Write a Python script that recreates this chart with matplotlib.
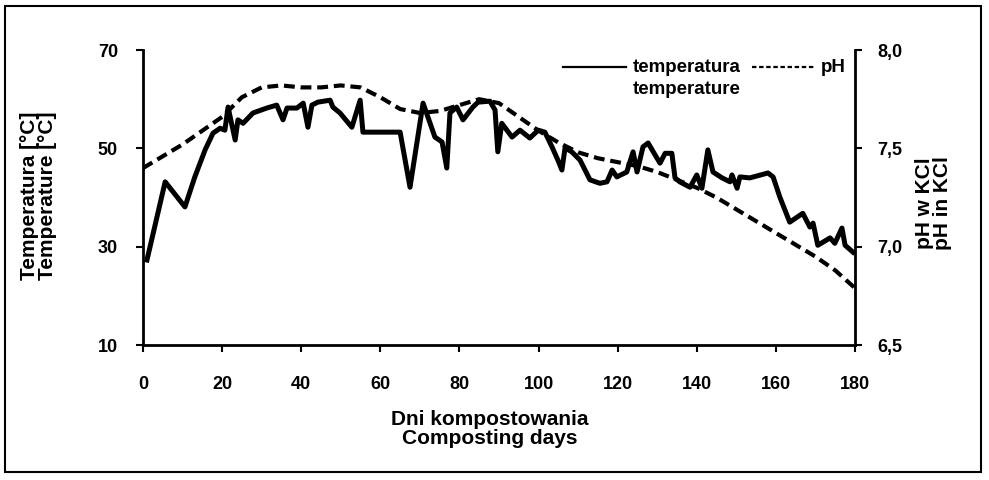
import matplotlib
matplotlib.use('Agg')
import matplotlib.pyplot as plt
from matplotlib.lines import Line2D
from matplotlib.patches import Rectangle
from matplotlib.ticker import FuncFormatter

plt.rcParams['font.family'] = ['Liberation Sans', 'DejaVu Sans']
plt.rcParams['font.weight'] = 'bold'

# temperature readings (day, deg C)
temp_days = [1, 5.6, 10.6, 13.1, 15.7, 17.7, 19.5, 20.7, 21.5, 23.3, 24, 25.3, 27.8,
             31.3, 33.8, 35.4, 36.4, 38.9, 40.5, 41.7, 42.7, 44.2, 47.3, 48, 49.8,
             52.8, 54.9, 55.6, 65, 67.5, 70.8, 73.8, 75.6, 76.8, 77.6, 79.3, 80.9,
             83.4, 84.7, 87.7, 89, 89.7, 90.7, 93.3, 95.3, 97.8, 99.9, 101.6, 103.4,
             104.9, 105.9, 106.7, 108.4, 110.5, 113, 115.5, 117.3, 118.6, 119.8,
             122.3, 123.9, 124.9, 126.4, 127.7, 129, 130.7, 132, 133.7, 134.5, 135.7,
             138.3, 140, 141.3, 142.8, 144.1, 146.4, 148.4, 148.9, 150.2, 150.9,
             153.4, 158, 159.3, 161, 163.5, 166.8, 168.6, 169.4, 170.6, 173.7,
             174.9, 176.7, 177.5, 179.5]
temp_vals = [27.3, 43.2, 38.1, 44.2, 49.7, 53.1, 54.1, 53.7, 58.4, 51.7, 55.8, 55.1, 57.2,
             58.2, 58.8, 55.8, 58.2, 58.2, 59.2, 54.3, 58.8, 59.4, 59.8, 58.4, 57.2,
             54.3, 59.8, 53.3, 53.3, 42.1, 59.2, 52.3, 51.3, 46.0, 57.2, 58.4, 55.8,
             58.4, 59.4, 59.6, 57.8, 49.3, 55.1, 52.3, 53.7, 52.1, 53.7, 53.3, 50.3,
             47.6, 45.6, 50.1, 49.3, 47.6, 43.6, 42.9, 43.2, 45.6, 44.2,
             45.2, 49.3, 45.2, 50.3, 51.1, 49.3, 47.0, 49.0, 49.0, 44.0, 43.2,
             42.1, 44.6, 41.9, 49.7, 45.2, 44.0, 43.2, 44.6, 41.9, 44.2,
             44.0, 45.0, 44.2, 40.1, 35.0, 36.8, 34.0, 34.8, 30.3, 31.8,
             30.7, 33.8, 30.3, 28.9]

# pH in KCl
ph_days = list(range(0, 181, 5))
ph_vals = [7.40, 7.46, 7.52, 7.59, 7.66, 7.76, 7.81, 7.82, 7.81, 7.81, 7.82, 7.81,
           7.76, 7.70, 7.68, 7.69, 7.72, 7.75, 7.73, 7.66, 7.59, 7.53, 7.48, 7.45,
           7.43, 7.41, 7.38, 7.34, 7.30, 7.25, 7.19, 7.13, 7.07, 7.01, 6.95, 6.88, 6.79]

x_ticks = [0, 20, 40, 60, 80, 100, 120, 140, 160, 180]
t_ticks = [10, 30, 50, 70]
ph_ticks = [6.5, 7.0, 7.5, 8.0]

fig = plt.figure(figsize=(9.89, 4.8), dpi=100)
ax = fig.add_axes([0.1446, 0.281, 0.7199, 0.6148])
ax2 = ax.twinx()

ax.plot(temp_days, temp_vals, color='black', lw=3.6, solid_joinstyle='round', zorder=3)
ax2.plot(ph_days, ph_vals, color='black', lw=3.0, dashes=(2.6, 1.4), zorder=2)

ax.set_xlim(0, 180)
ax.set_ylim(10, 70)
ax2.set_ylim(6.5, 8.0)
ax.set_xticks(x_ticks)
ax.set_yticks(t_ticks)
ax2.set_yticks(ph_ticks)
ax2.yaxis.set_major_formatter(FuncFormatter(lambda v, p: f'{v:.1f}'.replace('.', ',')))

for a in (ax, ax2):
    a.spines['top'].set_visible(False)
    for s in ('left', 'right', 'bottom'):
        a.spines[s].set_linewidth(2.0)
    a.tick_params(direction='out', length=5, width=1.5, labelsize=13, pad=13)
ax.spines['right'].set_visible(False)
ax2.spines['left'].set_visible(False)
ax2.spines['bottom'].set_visible(False)
ax.tick_params(axis='x', pad=17)
ax2.tick_params(axis='y', pad=11)

ax.set_xlabel('Dni kompostowania\nComposting days', fontsize=15, fontweight='bold',
              linespacing=1.0)
ax.xaxis.set_label_coords(0.487, -0.22)
ax.set_ylabel('Temperatura [°C]\nTemperature [°C]', fontsize=15, fontweight='bold',
              linespacing=0.95)
ax.yaxis.set_label_coords(-0.121, 0.505)
ax2.set_ylabel('pH w KCl\npH in KCl', fontsize=15, fontweight='bold',
               linespacing=0.95, rotation=90)
ax2.yaxis.set_label_coords(1.084, 0.48)

# legend drawn by hand
leg_y1 = 1 - 67 / 480
leg_y2 = 1 - 89 / 480
fig.add_artist(Line2D([563 / 989, 626 / 989], [leg_y1, leg_y1], color='black', lw=1.6))
fig.text(633 / 989, leg_y1, 'temperatura', fontsize=13.5, fontweight='bold', va='center')
fig.text(633 / 989, leg_y2, 'temperature', fontsize=13.5, fontweight='bold', va='center')
fig.add_artist(Line2D([752 / 989, 815 / 989], [leg_y1, leg_y1], color='black', lw=1.6,
                      dashes=(2.0, 1.2)))
fig.text(821 / 989, leg_y1, 'pH', fontsize=13.5, fontweight='bold', va='center')

# outer frame
fig.add_artist(Rectangle((5 / 989, 8 / 480), 976 / 989, 466 / 480, transform=fig.transFigure,
                         fill=False, edgecolor='black', lw=1.5))

fig.savefig('out.png', dpi=100)
